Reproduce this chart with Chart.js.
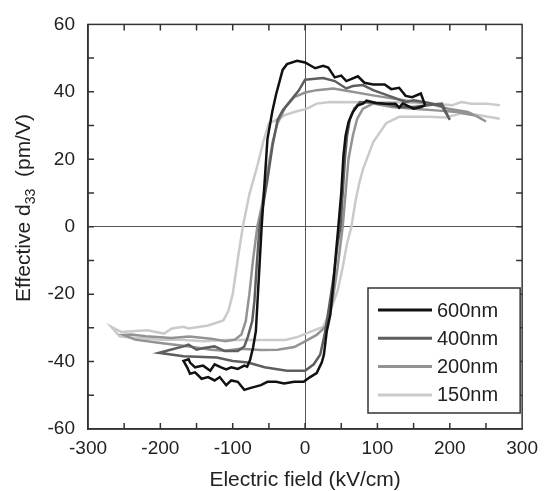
<!DOCTYPE html>
<html>
<head>
<meta charset="utf-8">
<script src="https://cdn.jsdelivr.net/npm/chart.js@4.4.1/dist/chart.umd.min.js"></script>
<style>
  html, body { margin: 0; padding: 0; background: #fff; }
</style>
</head>
<body>
<canvas id="loopChart" width="546" height="491"></canvas>
<script>
// d33 hysteresis loops (field in kV/cm, d33 in pm/V)
const sampleLabels = ['600nm', '400nm', '200nm', '150nm'];
const lineColors = ['#111111', '#5e5e5e', '#939393', '#cacaca'];

const field600 = [166,160,148,139,130,119,110,94,82,73,57,50,41,32,25,14,0,-11,-25,-31,-40,-45,-52,-60,-68,-72,-76,-80,-84,-93,-102,-109,-116,-125,-131,-141,-152,-159,-161,-168,-163,-159,-152,-143,-134,-125,-118,-109,-102,-93,-84,-75,-61,-52,-40,-29,-15,-2,7,16,23,26,30,35,39,43,46,50,53,56,60,66,73,80,85,98,110,125,130,135,150,160,166];
const d33_600 = [36,39.5,38.4,38.8,41.2,40.8,42.2,42.2,42.7,44.6,43.2,44.8,44.3,47.2,47.7,47,48.7,49.2,48.2,46.5,39.3,34.5,26,0,-31,-36,-39.5,-41.5,-41.2,-42.2,-41.7,-42.3,-41.7,-40.8,-42.7,-41.2,-41.7,-40.3,-39.3,-39.8,-41.7,-43.6,-43.2,-45.1,-44.6,-45.6,-44.6,-47,-45.6,-46,-48.4,-47.8,-47,-46,-46,-46.5,-46,-46,-44.6,-43.4,-40.3,-38,-31,-26,-17,-7,0,10,21,27,31,34,36,36.5,37.4,36.7,36.5,36.5,35.3,36.5,35,35.5,36];

const field400 = [200,189,170,150,139,120,94,80,66,57,41,25,14,0,-9,-20,-31,-38,-45,-52,-63,-67,-70,-73,-79,-84,-93,-111,-125,-140,-150,-161,-168,-186,-202,-168,-122,-100,-79,-56,-25,0,12,21,27,33,40,45,49,52,55,58,62,68,76,90,110,130,150,170,189,200];
const d33_400 = [31.7,35.8,36.8,37.5,37,38.5,40.5,42,41.7,41,43.2,44.1,43.9,43.6,40.3,37.4,34.5,31.7,24,14,0,-12,-22,-28,-32.6,-35.5,-36.9,-36.9,-35.5,-36,-36.5,-35,-35.5,-36.5,-37.4,-38.4,-38.8,-39.8,-40.3,-41.7,-42.7,-42.7,-40.8,-37.9,-32,-24,-14,-5,0,10,20,27,32,35,37,36.8,36.5,35.5,35.5,36,36.5,31.7];

const field200 = [250,239,225,198,171,139,98,57,39,16,0,-15,-27,-38,-45,-52,-60,-66,-72,-77,-82,-88,-97,-110,-130,-160,-185,-220,-240,-251,-235,-200,-160,-130,-110,-90,-61,-38,-15,0,16,30,38,45,52,56,60,66,72,80,94,120,150,180,210,235,250];
const d33_200 = [31.2,32.6,34,35,36.5,37.4,38.8,40.3,41,40.5,39.8,38.4,35.5,30.7,25,16,6,0,-10,-20,-28,-32,-33.5,-34,-33.2,-32.6,-33,-32.5,-32,-32.1,-33.5,-34.5,-35.5,-36.5,-36.8,-36.2,-36.6,-36.5,-35.7,-34,-32.1,-29.3,-22,-12,0,10,20,27,32,35,36.5,35.5,35,34.5,34,33,31.2];

const field150 = [269,250,230,216,203,180,125,80,35,16,3,-15,-29,-36,-50,-58,-66,-77,-86,-93,-100,-106,-113,-134,-161,-168,-184,-195,-218,-254,-268,-256,-230,-200,-170,-140,-106,-61,-27,-9,7,25,35,45,52,58,64,70,75,80,94,112,130,171,194,216,239,269];
const d33_150 = [36,36.5,36.5,37,36,36.5,36.9,36.9,37,36.5,35,34,33,32,30.7,25,18,9.6,0,-9.6,-20,-25,-27.8,-29.3,-30.2,-29.7,-30.2,-31.7,-30.7,-31.2,-29.7,-32.6,-33,-33.5,-33.5,-34,-33.5,-33.6,-33.6,-32.6,-31.2,-29.7,-25,-19,-12,-5,0,8,13,17,25,30.7,32.6,32.6,32.4,33.6,33.1,32];

const FONT = "'Liberation Sans', Arial, Helvetica, sans-serif";
const TEXT = '#222';

function toPoints(xs, ys) {
  return xs.map((x, i) => ({ x, y: ys[i] }));
}

const series = [
  toPoints(field600, d33_600),
  toPoints(field400, d33_400),
  toPoints(field200, d33_200),
  toPoints(field150, d33_150),
];

// inward tick marks, top/right frame, legend box and axis titles
const figureDecor = {
  id: 'figureDecor',
  afterDraw(chart) {
    const { ctx, chartArea: a, scales: { x, y } } = chart;
    ctx.save();
    ctx.strokeStyle = '#333';
    ctx.lineWidth = 1.5;
    ctx.strokeRect(a.left, a.top, a.right - a.left, a.bottom - a.top);

    const tl = 6;
    ctx.beginPath();
    for (let v = -250; v <= 250; v += 50) {
      const px = x.getPixelForValue(v);
      ctx.moveTo(px, a.bottom); ctx.lineTo(px, a.bottom - tl);
      ctx.moveTo(px, a.top); ctx.lineTo(px, a.top + tl);
    }
    for (let v = -50; v <= 50; v += 10) {
      const py = y.getPixelForValue(v);
      ctx.moveTo(a.left, py); ctx.lineTo(a.left + tl, py);
      ctx.moveTo(a.right, py); ctx.lineTo(a.right - tl, py);
    }
    ctx.stroke();

    // legend
    const bx = a.left + 280, by = 288, bw = a.right - 2 - bx, bh = 125;
    ctx.fillStyle = '#fff';
    ctx.fillRect(bx, by, bw, bh);
    ctx.strokeStyle = '#333';
    ctx.lineWidth = 1.5;
    ctx.strokeRect(bx, by, bw, bh);
    ctx.font = `20px ${FONT}`;
    ctx.textBaseline = 'middle';
    ctx.textAlign = 'left';
    chart.data.datasets.forEach((ds, i) => {
      const ry = by + 22 + i * 28.3;
      ctx.strokeStyle = ds.borderColor;
      ctx.lineWidth = 3;
      ctx.beginPath();
      ctx.moveTo(bx + 10, ry); ctx.lineTo(bx + 64, ry);
      ctx.stroke();
      ctx.fillStyle = TEXT;
      ctx.fillText(ds.label, bx + 69, ry + 1);
    });

    // x title
    ctx.fillStyle = TEXT;
    ctx.textAlign = 'center';
    ctx.textBaseline = 'alphabetic';
    ctx.font = `21px ${FONT}`;
    ctx.fillText('Electric field (kV/cm)', (a.left + a.right) / 2, 486);

    // y title with subscript
    const part1 = 'Effective d', sub = '33', part2 = '  (pm/V)';
    ctx.font = `21px ${FONT}`;
    const w1 = ctx.measureText(part1).width, w3 = ctx.measureText(part2).width;
    ctx.font = `14px ${FONT}`;
    const w2 = ctx.measureText(sub).width;
    ctx.translate(30, 208);
    ctx.rotate(-Math.PI / 2);
    ctx.textAlign = 'left';
    let cx = -(w1 + w2 + w3) / 2;
    ctx.font = `21px ${FONT}`;
    ctx.fillText(part1, cx, 0); cx += w1;
    ctx.font = `14px ${FONT}`;
    ctx.fillText(sub, cx, 5); cx += w2;
    ctx.font = `21px ${FONT}`;
    ctx.fillText(part2, cx, 0);
    ctx.restore();
  }
};

new Chart(document.getElementById('loopChart'), {
  type: 'scatter',
  data: {
    datasets: series.map((pts, i) => ({
      label: sampleLabels[i],
      data: pts,
      showLine: true,
      borderColor: lineColors[i],
      backgroundColor: lineColors[i],
      borderWidth: 2.5,
      pointRadius: 0,
      tension: 0,
    }))
  },
  options: {
    responsive: false,
    animation: false,
    layout: { padding: { left: 0, right: 18, top: 12, bottom: 0 }, autoPadding: false },
    plugins: { legend: { display: false }, tooltip: { enabled: false } },
    scales: {
      x: {
        type: 'linear', min: -300, max: 300,
        ticks: { stepSize: 100, color: TEXT, font: { family: FONT, size: 19 }, padding: 8, maxRotation: 0, autoSkip: false },
        grid: { drawTicks: false, lineWidth: 1, color: c => (c.tick && c.tick.value === 0 ? '#555' : 'rgba(0,0,0,0)') },
        border: { display: true, color: '#333', width: 1.5 },
        afterFit: s => { s.height = 62; }
      },
      y: {
        min: -60, max: 60,
        ticks: { stepSize: 20, color: TEXT, font: { family: FONT, size: 19 }, padding: 13 },
        grid: { drawTicks: false, lineWidth: 1, color: c => (c.tick && c.tick.value === 0 ? '#555' : 'rgba(0,0,0,0)') },
        border: { display: true, color: '#333', width: 1.5 },
        afterFit: s => { s.width = 88; }
      }
    }
  },
  plugins: [figureDecor]
});
</script>
</body>
</html>
